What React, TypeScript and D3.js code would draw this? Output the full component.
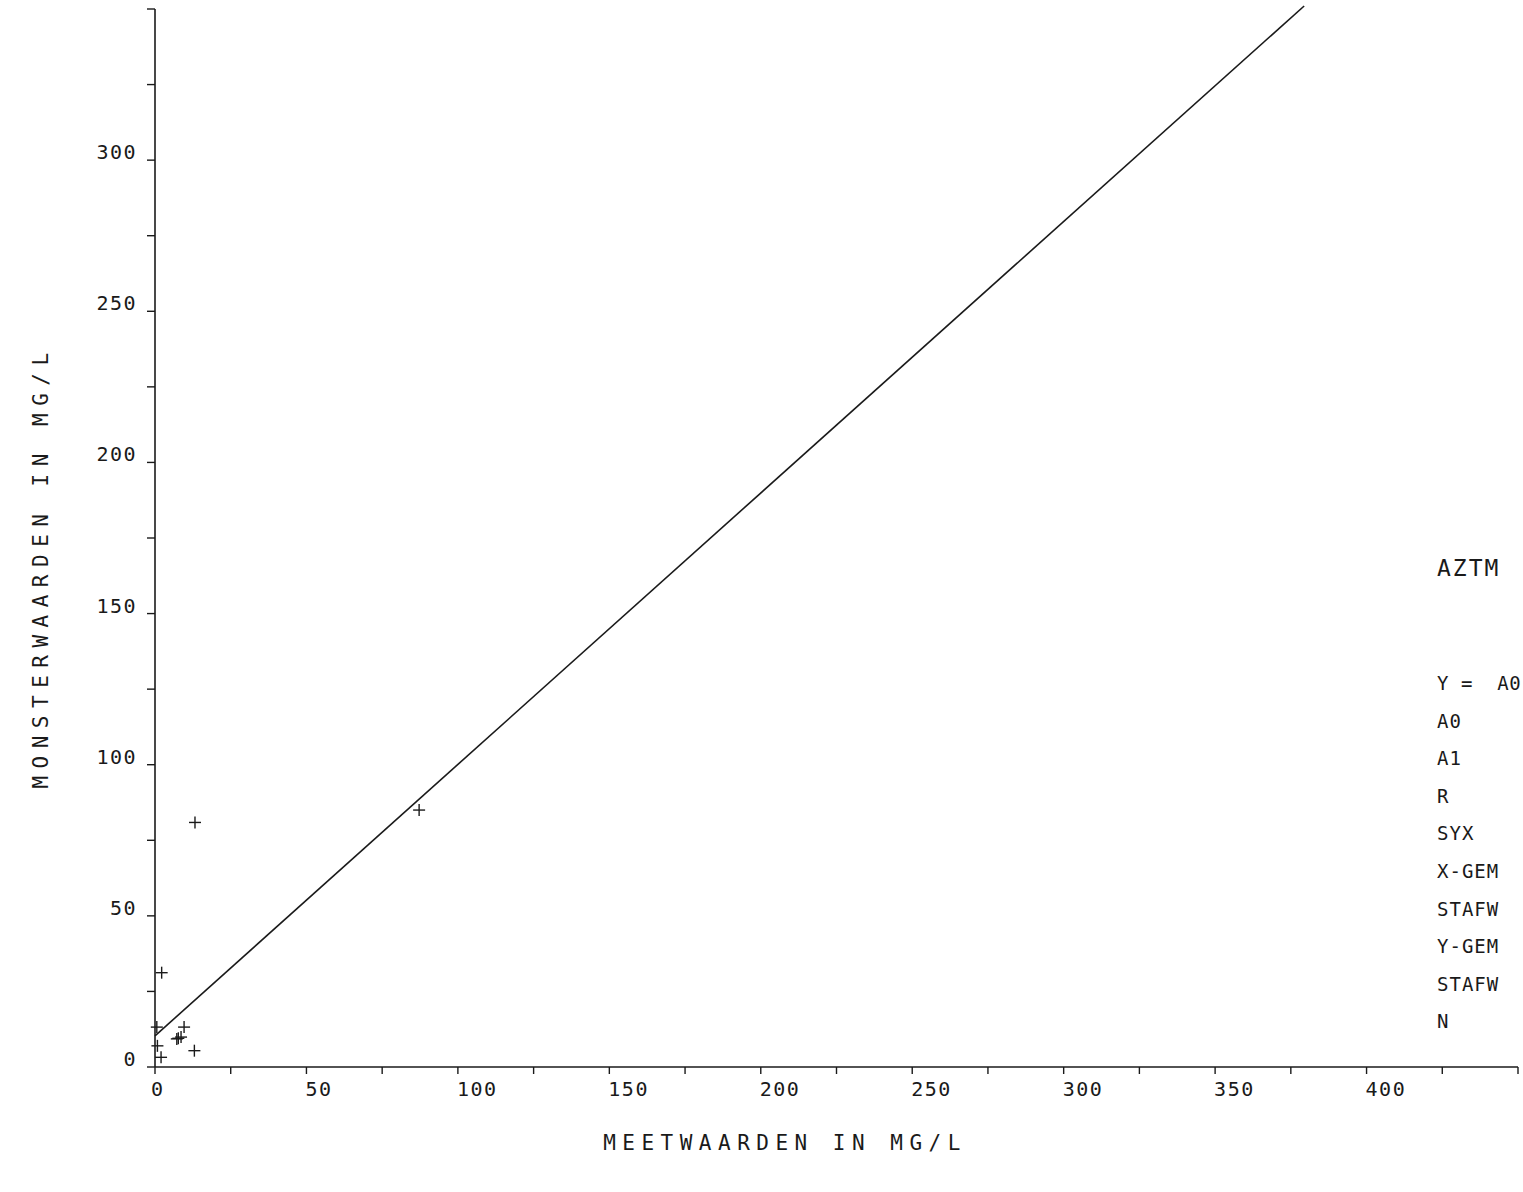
import React from "react";
import * as d3 from "d3";

const W = 1523;
const H = 1192;

// measured values (x = meetwaarden, y = monsterwaarden), mg/L
const measX = [2.2, 0.6, 9.6, 7.7, 8.6, 7.2, 13.0, 0.8, 2.0, 13.2, 87.2];
const sampleY = [31.2, 13.2, 13.2, 9.5, 9.9, 9.3, 5.4, 7.0, 3.2, 80.9, 85.0];

// regression line Y = A0 + A1 * X
const A0 = 10.3;
const A1 = 0.898;

const xTickValues = d3.range(0, 451, 25);
const xTickLabels = [0, 50, 100, 150, 200, 250, 300, 350, 400];
const yTickValues = d3.range(0, 351, 25);
const yTickLabels = [0, 50, 100, 150, 200, 250, 300];

const legendTitle = "AZTM";
const legendLines = [
  "Y =  A0",
  "A0",
  "A1",
  "R",
  "SYX",
  "X-GEM",
  "STAFW",
  "Y-GEM",
  "STAFW",
  "N",
];

const xTitle = "MEETWAARDEN IN MG/L";
const yTitle = "MONSTERWAARDEN IN MG/L";

const FONT = "'DejaVu Sans Mono', 'Liberation Mono', monospace";
const INK = "#1a1a1a";

export default function App() {
  const x = d3.scaleLinear().domain([0, 450]).range([155, 1518]);
  const y = d3.scaleLinear().domain([0, 350]).range([1067, 9]);

  const yMax = 351;
  const lineEndX = (yMax - A0) / A1;
  const linePath = d3.line<number>()
    .x((d) => x(d))
    .y((d) => y(A0 + A1 * d))([0, lineEndX]);

  const arm = 6;

  return (
    <svg
      width={W}
      height={H}
      style={{ position: "absolute", left: 0, top: 0, background: "#fff" }}
      fontFamily={FONT}
    >
      <rect x={0} y={0} width={W} height={H} fill="#fff" />
      {/* axes */}
      <line x1={x(0)} y1={y(0)} x2={x(450)} y2={y(0)} stroke={INK} strokeWidth={1.6} />
      <line x1={x(0)} y1={y(0)} x2={x(0)} y2={y(350)} stroke={INK} strokeWidth={1.6} />
      {xTickValues.map((v) => (
        <line key={"xt" + v} x1={x(v)} x2={x(v)} y1={y(0)} y2={y(0) + 7} stroke={INK} strokeWidth={1.4} />
      ))}
      {yTickValues.map((v) => (
        <line key={"yt" + v} x1={x(0) - 8} x2={x(0)} y1={y(v)} y2={y(v)} stroke={INK} strokeWidth={1.4} />
      ))}
      {xTickLabels.map((v) => (
        <text
          key={"xl" + v}
          x={x(v) - (v === 0 ? 4 : 1)}
          y={1096}
          fontSize={20}
          letterSpacing={1.5}
          fill={INK}
        >
          {v}
        </text>
      ))}
      {yTickLabels.map((v) => (
        <text
          key={"yl" + v}
          x={137}
          y={y(v) - 1}
          fontSize={20}
          letterSpacing={1.5}
          textAnchor="end"
          fill={INK}
        >
          {v}
        </text>
      ))}
      {/* titles */}
      <text x={785} y={1150} fontSize={21} letterSpacing={6.5} textAnchor="middle" fill={INK}>
        {xTitle}
      </text>
      <text
        transform={`translate(48,567) rotate(-90)`}
        fontSize={21}
        letterSpacing={7.5}
        textAnchor="middle"
        fill={INK}
      >
        {yTitle}
      </text>
      {/* regression line */}
      <path d={linePath || ""} fill="none" stroke={INK} strokeWidth={1.6} />
      {/* points */}
      {measX.map((mx, i) => (
        <g key={"p" + i} stroke={INK} strokeWidth={1.4}>
          <line x1={x(mx) - arm} x2={x(mx) + arm} y1={y(sampleY[i])} y2={y(sampleY[i])} />
          <line x1={x(mx)} x2={x(mx)} y1={y(sampleY[i]) - arm} y2={y(sampleY[i]) + arm} />
        </g>
      ))}
      {/* legend */}
      <text x={1437} y={576} fontSize={23} letterSpacing={2} fill={INK}>
        {legendTitle}
      </text>
      {legendLines.map((t, i) => (
        <text
          key={"lg" + i}
          x={1437}
          y={690 + i * 37.6}
          fontSize={19}
          letterSpacing={i === 0 ? 0.6 : 1}
          fill={INK}
          style={{ whiteSpace: "pre" }}
        >
          {t}
        </text>
      ))}
    </svg>
  );
}
